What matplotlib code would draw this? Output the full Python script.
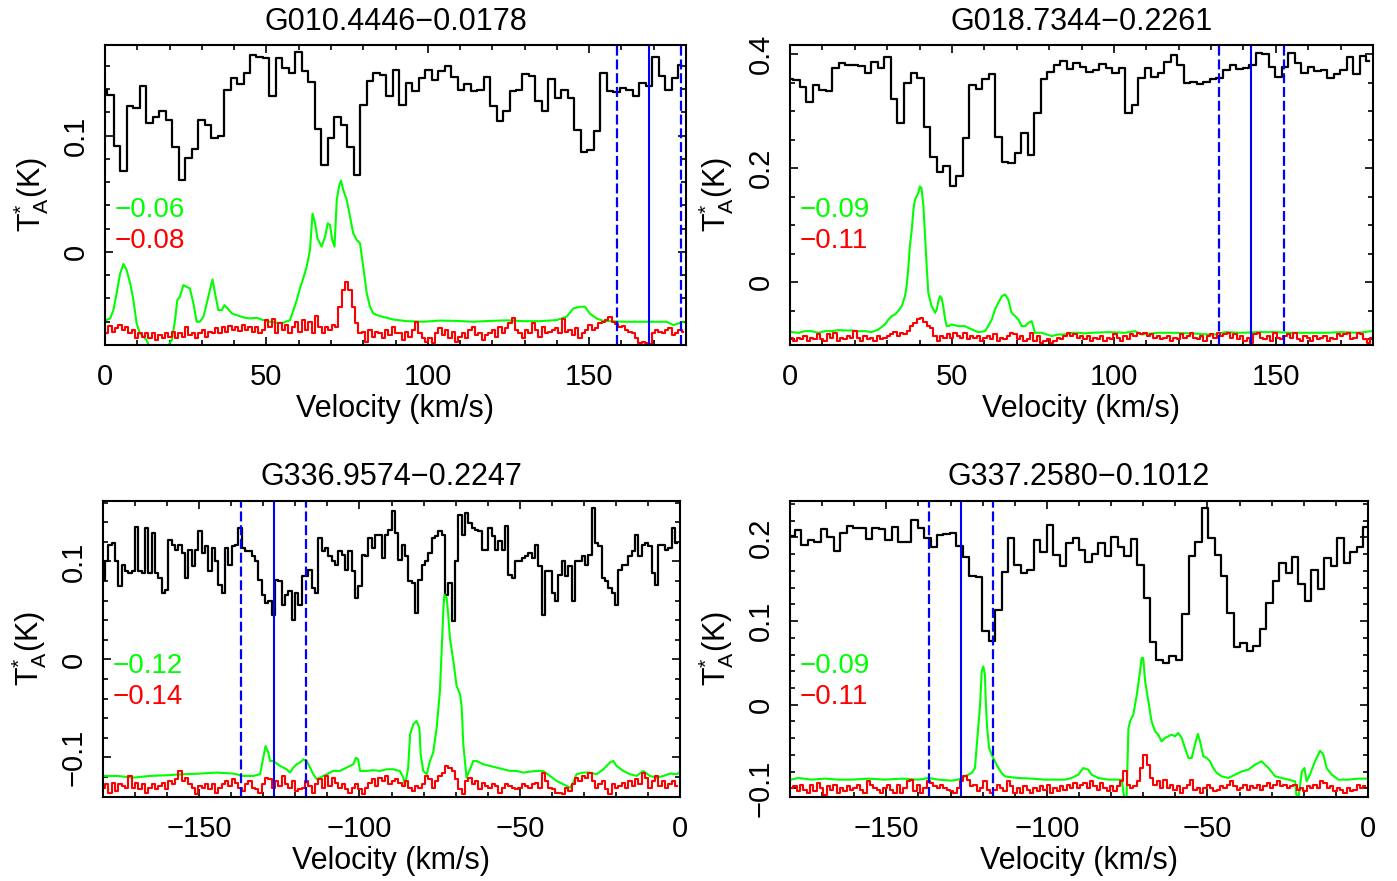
import numpy as np
import matplotlib
matplotlib.use("Agg")
import matplotlib.pyplot as plt
from matplotlib.ticker import MultipleLocator, FixedLocator, FixedFormatter

plt.rcParams['font.family'] = ['Liberation Sans', 'DejaVu Sans']
plt.rcParams['mathtext.fontset'] = 'custom'
plt.rcParams['mathtext.rm'] = 'Liberation Sans'
plt.rcParams['mathtext.it'] = 'Liberation Sans'

# ---------------- data ----------------
titles = ["G010.4446\u22120.0178", "G018.7344\u22120.2261",
          "G336.9574\u22120.2247", "G337.2580\u22120.1012"]
green_labels = ["\u22120.06", "\u22120.09", "\u22120.12", "\u22120.09"]
red_labels = ["\u22120.08", "\u22120.11", "\u22120.14", "\u22120.11"]
vlsr_center = [168.5, 142.4, -126.8, -126.8]
vlsr_halfwidth = [10.0, 10.0, 10.0, 10.0]

# Panel 1 : G010.4446-0.0178
p1_black_v0, p1_black_dv = -0.305, 2.01
p1_black = [0.1397, 0.1353, 0.0908, 0.0698, 0.1253, 0.1239, 0.1425, 0.1109, 0.1161, 0.1216,
            0.1132, 0.0899, 0.0621, 0.0807, 0.0885, 0.1132, 0.1095, 0.0980, 0.0994, 0.1397,
            0.1497, 0.1445, 0.1540, 0.1698, 0.1678, 0.1670, 0.1339, 0.1664, 0.1583, 0.1540,
            0.1721, 0.1555, 0.1463, 0.1057, 0.0750, 0.0980, 0.1158, 0.1095, 0.0899, 0.0664,
            0.1267, 0.1468, 0.1540, 0.1526, 0.1339, 0.1563, 0.1267, 0.1454, 0.1382, 0.1497,
            0.1563, 0.1483, 0.1555, 0.1598, 0.1506, 0.1397, 0.1445, 0.1382, 0.1397, 0.1506,
            0.1253, 0.1129, 0.1216, 0.1382, 0.1397, 0.1532, 0.1517, 0.1296, 0.1210, 0.1489,
            0.1325, 0.1397, 0.1325, 0.1052, 0.0859, 0.0874, 0.1043, 0.1540, 0.1382, 0.1376,
            0.1411, 0.1397, 0.1345, 0.1454, 0.1425, 0.1678, 0.1511, 0.1397, 0.1497, 0.1612]
p1_green_v = [0.3, 1.6, 2.6, 3.6, 4.7, 5.7, 6.7, 7.8, 8.8, 9.8, 10.8, 11.9, 12.9, 13.9, 16.5, 19.1,
              20.7, 21.7, 22.4, 23.2, 24.3, 25.3, 26.3, 27.4, 28.4, 29.4, 30.5, 31.5, 32.5, 33.3,
              34.1, 35.1, 36.2, 37.0, 38.0, 39.3, 40.8, 42.9, 44.9, 47.0, 49.0, 51.1, 53.2, 55.2,
              57.3, 58.4, 59.4, 60.4, 61.4, 62.5, 63.5, 64.3, 65.1, 65.8, 67.1, 68.2, 69.0, 69.7,
              70.4, 71.1, 71.8, 72.5, 73.1, 73.8, 74.9, 75.9, 76.9, 78.0, 79.0, 80.0, 81.1, 82.1,
              83.1, 85.2, 87.3, 89.3, 93.5, 98.6, 103.7, 108.9, 114.0, 119.3, 124.5, 129.6, 134.8,
              139.9, 143.0, 145.1, 147.1, 148.7, 150.2, 152.3, 154.4, 160.6, 168.8, 174.0, 176.1,
              179.2]
p1_green = [-0.0586, -0.0572, -0.0500, -0.0356, -0.0184, -0.0103, -0.0155, -0.0270, -0.0414,
            -0.0615, -0.0700, -0.0730, -0.0759, -0.0820, -0.0820, -0.0820, -0.0759, -0.0586,
            -0.0414, -0.0385, -0.0285, -0.0300, -0.0313, -0.0443, -0.0600, -0.0600, -0.0557,
            -0.0443, -0.0328, -0.0236, -0.0356, -0.0500, -0.0500, -0.0457, -0.0486, -0.0529,
            -0.0543, -0.0563, -0.0572, -0.0566, -0.0586, -0.0600, -0.0609, -0.0609, -0.0586,
            -0.0500, -0.0414, -0.0313, -0.0227, -0.0126, 0.0017, 0.0330, 0.0246, 0.0118, 0.0046,
            0.0132, 0.0246, 0.0232, 0.0103, 0.0046, 0.0448, 0.0563, 0.0615, 0.0534, 0.0448,
            0.0305, 0.0161, 0.0103, 0.0075, -0.0126, -0.0356, -0.0471, -0.0529, -0.0552, -0.0566,
            -0.0581, -0.0595, -0.0600, -0.0590, -0.0593, -0.0600, -0.0593, -0.0588, -0.0595,
            -0.0595, -0.0586, -0.0557, -0.0486, -0.0471, -0.0471, -0.0529, -0.0572, -0.0593,
            -0.0600, -0.0600, -0.0600, -0.0629, -0.0600]
p1_red_v0, p1_red_dv = 0.5, 1.033
p1_red = [-0.0701, -0.0638, -0.0687, -0.0658, -0.0629, -0.0672, -0.0649, -0.0701, -0.0672, -0.0744,
          -0.0695, -0.0730, -0.0701, -0.0744, -0.0701, -0.0759, -0.0715, -0.0744, -0.0701, -0.0730,
          -0.0687, -0.0744, -0.0701, -0.0730, -0.0644, -0.0715, -0.0695, -0.0744, -0.0701, -0.0672,
          -0.0730, -0.0687, -0.0701, -0.0658, -0.0695, -0.0649, -0.0687, -0.0638, -0.0672, -0.0644,
          -0.0678, -0.0629, -0.0667, -0.0644, -0.0687, -0.0649, -0.0701, -0.0672, -0.0586, -0.0644,
          -0.0580, -0.0701, -0.0615, -0.0672, -0.0629, -0.0701, -0.0644, -0.0600, -0.0687, -0.0586,
          -0.0672, -0.0600, -0.0701, -0.0552, -0.0644, -0.0695, -0.0644, -0.0672, -0.0629, -0.0644,
          -0.0471, -0.0327, -0.0256, -0.0327, -0.0471, -0.0615, -0.0701, -0.0687, -0.0773, -0.0672,
          -0.0730, -0.0687, -0.0701, -0.0744, -0.0672, -0.0715, -0.0644, -0.0701,
          -0.0701, -0.0759, -0.0687, -0.0730, -0.0672, -0.0600, -0.0701, -0.0744, -0.0773, -0.0744,
          -0.0787, -0.0701, -0.0658, -0.0715, -0.0672, -0.0744, -0.0687, -0.0773, -0.0730, -0.0701,
          -0.0744, -0.0672, -0.0644, -0.0715, -0.0701, -0.0759, -0.0715, -0.0701, -0.0672, -0.0730,
          -0.0644, -0.0701, -0.0658, -0.0615, -0.0572, -0.0672, -0.0701, -0.0744, -0.0672, -0.0701,
          -0.0615, -0.0672, -0.0730, -0.0644, -0.0701, -0.0687, -0.0672, -0.0658, -0.0701, -0.0580,
          -0.0687, -0.0672, -0.0715, -0.0658, -0.0744, -0.0701, -0.0672, -0.0629, -0.0672, -0.0658,
          -0.0615, -0.0600, -0.0586, -0.0563, -0.0600, -0.0621, -0.0644, -0.0638, -0.0672, -0.0687,
          -0.0701, -0.0744, -0.0787, -0.0773, -0.0787, -0.0793, -0.0701, -0.0667, -0.0687, -0.0701,
          -0.0672, -0.0658, -0.0715, -0.0701, -0.0672, -0.0687]

# Panel 2 : G018.7344-0.2261
p2_black_v0, p2_black_dv = 0.025, 2.01
p2_black = [0.3560, 0.3547, 0.3430, 0.3167, 0.3459, 0.3372, 0.3360, 0.3752, 0.3839, 0.3810,
            0.3810, 0.3792, 0.3675, 0.3868, 0.3752, 0.3944, 0.3209, 0.2789, 0.3489, 0.3664,
            0.3577, 0.2719, 0.2205, 0.1942, 0.2042, 0.1680, 0.1855, 0.2527, 0.3459, 0.3384,
            0.3560, 0.3647, 0.2555, 0.2100, 0.2089, 0.2264, 0.2614, 0.2234, 0.2975, 0.3560,
            0.3692, 0.3810, 0.3885, 0.3734, 0.3839, 0.3780,
            0.3692, 0.3722, 0.3827, 0.3752, 0.3664, 0.3752, 0.2964, 0.3110, 0.3577, 0.3752,
            0.3605, 0.3664, 0.3868, 0.3984, 0.3810, 0.3489, 0.3517, 0.3477, 0.3517, 0.3560,
            0.3577, 0.3722, 0.3810, 0.3734, 0.3752, 0.3810, 0.4025, 0.4001, 0.3769, 0.3605,
            0.3780, 0.4025, 0.3850, 0.3664, 0.3780, 0.3710, 0.3722, 0.3577, 0.3647, 0.3722,
            0.3955, 0.3652, 0.3967, 0.3885]
p2_green_v = [0.5, 2.6, 4.6, 6.7, 8.8, 10.8, 12.9, 14.9, 17.0, 19.0, 21.1, 23.2, 25.2, 27.3, 29.3,
              30.4, 31.4, 32.4, 33.4, 34.5, 35.5, 36.0, 36.5, 37.0, 37.6, 38.1, 38.6, 39.1, 39.6,
              40.1, 40.6, 41.2, 41.7, 42.2, 42.7, 43.7, 44.8, 45.3, 45.8, 46.3, 46.8, 47.3, 47.9,
              48.4, 48.9, 49.9, 52.0, 54.0, 56.1, 58.1, 60.2, 61.2, 62.3, 63.3, 64.3, 65.4, 66.4,
              67.4, 68.4, 69.5, 70.5, 71.5, 72.6, 73.6, 74.6, 75.1, 75.6, 77.7, 80.8, 82.8, 84.9,
              87.0, 89.0, 90.9, 93.1, 98.3, 103.4, 106.5, 108.6, 113.7, 118.9, 124.0, 129.2,
              131.2, 134.3, 139.4, 144.6, 149.7, 154.9, 160.0, 165.2, 170.3, 175.5, 179.6]
p2_green = [-0.0874, -0.0886, -0.0857, -0.0857, -0.0886, -0.0857, -0.0857, -0.0839, -0.0845,
            -0.0845, -0.0857, -0.0857, -0.0874, -0.0827, -0.0740, -0.0652, -0.0594, -0.0565,
            -0.0507, -0.0419, -0.0244, -0.0069, 0.0222, 0.0631, 0.0922, 0.1272, 0.1447, 0.1506,
            0.1564, 0.1681, 0.1651, 0.1331, 0.0806, 0.0281, -0.0186, -0.0419, -0.0536, -0.0477,
            -0.0332, -0.0244, -0.0273, -0.0419, -0.0652, -0.0769, -0.0769, -0.0740, -0.0769,
            -0.0769, -0.0827, -0.0874, -0.0857, -0.0769, -0.0652, -0.0477, -0.0361, -0.0244,
            -0.0215, -0.0303, -0.0536, -0.0594, -0.0652, -0.0769, -0.0769, -0.0711, -0.0682,
            -0.0769, -0.0886, -0.0886, -0.0944, -0.0915, -0.0915, -0.0886, -0.0886, -0.0897,
            -0.0886, -0.0874, -0.0886, -0.0857, -0.0915, -0.0886, -0.0886, -0.0897, -0.0915,
            -0.0915, -0.0874, -0.0886, -0.0874, -0.0874, -0.0886, -0.0886, -0.0886, -0.0874,
            -0.0886, -0.0857]
p2_red_v0, p2_red_dv = 0.51, 1.029
p2_red = [-0.0973, -0.1032, -0.0973, -0.1002, -0.0944, -0.1032, -0.0973, -0.1002, -0.0915, -0.1002,
          -0.1032, -0.0915, -0.0973, -0.0886, -0.1032, -0.0973, -0.1002, -0.0944, -0.0973, -0.0857,
          -0.0973, -0.1032, -0.0944, -0.1002, -0.0973, -0.1032, -0.0944, -0.1002, -0.0973, -0.0944,
          -0.0915, -0.0874, -0.0944, -0.0886, -0.0915, -0.0857, -0.0769, -0.0711, -0.0652, -0.0623,
          -0.0699, -0.0769, -0.0798, -0.0944, -0.1032, -0.0944, -0.0973, -0.0915, -0.0973, -0.0886,
          -0.0944, -0.0973, -0.0886, -0.1002, -0.0944, -0.0973, -0.0944, -0.1032, -0.0973, -0.0944,
          -0.1002, -0.0915, -0.1032, -0.0973, -0.1002, -0.0944, -0.0886, -0.0915, -0.1002, -0.0944,
          -0.1032, -0.1002, -0.0886, -0.1032, -0.0944, -0.1061, -0.1032, -0.1002, -0.1061, -0.1032,
          -0.0973, -0.1002, -0.0944, -0.0886, -0.0944, -0.0915, -0.0973, -0.0944,
          -0.1002, -0.0944, -0.1032, -0.0973, -0.1002, -0.0944, -0.1032, -0.0973, -0.1002, -0.0915,
          -0.0973, -0.1032, -0.0944, -0.1002, -0.0915, -0.0944, -0.0886, -0.0915, -0.0886, -0.0944,
          -0.0915, -0.0973, -0.0944, -0.1002, -0.0973, -0.0944, -0.1032, -0.0973, -0.1002, -0.0915,
          -0.0973, -0.0944, -0.0886, -0.0973, -0.1002, -0.0944, -0.1032, -0.0944, -0.0915, -0.0973,
          -0.0886, -0.0944, -0.0915, -0.0886, -0.0973, -0.0915, -0.1002, -0.0944, -0.1032, -0.0973,
          -0.1061, -0.0915, -0.0886, -0.0973, -0.1002, -0.0944, -0.1032, -0.0886, -0.0973, -0.1002,
          -0.0944, -0.0915, -0.0973, -0.0886, -0.1002, -0.1032, -0.0944, -0.0973, -0.1032, -0.0944,
          -0.1002, -0.0973, -0.0944, -0.1032, -0.0973, -0.1002, -0.0915, -0.0944, -0.0915, -0.0886,
          -0.1002, -0.0973, -0.0886, -0.0915, -0.1002, -0.1061, -0.0973]

# Panel 3 : G336.9574-0.2247
p3_black_v0, p3_black_dv = -179.9, 1.04
p3_black = [0.0815, 0.1001, 0.1171, 0.1188, 0.1001, 0.0747, 0.0967, 0.0900, 0.0883, 0.0900,
            0.1351, 0.0900, 0.0883, 0.1341, 0.0883, 0.1290, 0.0883, 0.0832, 0.0679, 0.0713,
            0.1222, 0.1171, 0.1120, 0.1171, 0.1086, 0.0832, 0.1120, 0.0950, 0.1120, 0.1307,
            0.1086, 0.1154, 0.0900, 0.1137, 0.1001, 0.0764, 0.0679, 0.1137, 0.0967, 0.1154,
            0.1171, 0.1341, 0.1137, 0.1103, 0.1103, 0.1052, 0.1001, 0.0815, 0.0662, 0.0577,
            0.0594, 0.0458, 0.0815, 0.0805, 0.0560, 0.0662, 0.0696, 0.0407, 0.0679, 0.0560,
            0.0849, 0.0849, 0.0917, 0.0730, 0.0679, 0.1239, 0.1103, 0.1137, 0.1052, 0.1001,
            0.0967, 0.1103, 0.1069, 0.0917, 0.1103, 0.0900, 0.0628, 0.0747, 0.1069, 0.1052,
            0.1239, 0.1137, 0.1273, 0.1273, 0.1035, 0.1273, 0.1324, 0.1510, 0.1290, 0.1018,
            0.1171, 0.1052, 0.0798, 0.0781, 0.0475, 0.0815, 0.0967, 0.1001, 0.1086, 0.1239,
            0.1256, 0.1314, 0.1273, 0.0662, 0.0781, 0.0390, 0.1001, 0.1477, 0.1273, 0.1493,
            0.1392, 0.1341, 0.1324, 0.1307, 0.1120, 0.1120, 0.1341, 0.1256, 0.1120, 0.1205,
            0.1120, 0.1358, 0.0866, 0.0832, 0.1001, 0.1001, 0.1035, 0.1052, 0.1086, 0.1035,
            0.1171, 0.0950, 0.0458, 0.0900, 0.0900, 0.0679, 0.0594, 0.0866, 0.1001, 0.0849,
            0.0950, 0.0594, 0.1001, 0.1001, 0.1052, 0.0967, 0.1069, 0.1544, 0.1188, 0.1154,
            0.0832, 0.0798, 0.0730, 0.0679, 0.0560, 0.0917, 0.0967, 0.0967, 0.1052, 0.1103,
            0.1273, 0.1052, 0.1171, 0.1188, 0.1154, 0.0883, 0.0764, 0.1171, 0.1171, 0.1120,
            0.1137, 0.1341, 0.1188]
p3_green_v = [-179.9, -175.7, -170.5, -165.3, -160.1, -154.9, -149.7, -144.5, -139.4, -136.2,
              -133.1, -131.0, -130.0, -129.3, -128.4, -127.9, -126.9, -124.8, -122.7, -121.7,
              -120.6, -119.6, -118.6, -117.5, -116.5, -115.4, -114.4, -113.3, -112.3, -110.2,
              -108.2, -106.1, -104.0, -101.9, -101.1, -100.4, -99.8, -97.8, -95.7, -93.6, -91.5,
              -89.5, -87.4, -86.3, -85.8, -84.8, -84.2, -83.2, -82.2, -81.3, -80.9, -80.1, -79.0,
              -78.0, -77.0, -75.9, -74.9, -74.4, -73.8, -73.5, -72.8, -72.3, -71.8, -70.7, -69.7,
              -68.6, -68.1, -67.6, -67.1, -66.6, -65.5, -64.5, -63.5, -61.4, -59.3, -57.2, -55.1,
              -53.0, -51.0, -48.9, -46.8, -44.7, -42.7, -40.6, -38.5, -36.4, -34.3, -33.3, -32.3,
              -30.2, -28.1, -26.0, -23.9, -21.9, -20.8, -19.8, -17.7, -15.6, -13.5, -11.5, -9.4,
              -7.3, -5.2, -3.1, -1.1, -0.2]
p3_green = [-0.1188, -0.1188, -0.1205, -0.1188, -0.1181, -0.1171, -0.1164, -0.1154, -0.1164,
            -0.1188, -0.1188, -0.1171, -0.1002, -0.0883, -0.0951, -0.1035, -0.1035, -0.1086,
            -0.1120, -0.1154, -0.1103, -0.1069, -0.1052, -0.1019, -0.1035, -0.1103, -0.1171,
            -0.1222, -0.1205, -0.1171, -0.1137, -0.1137, -0.1103, -0.1069, -0.1002, -0.1019,
            -0.1137, -0.1137, -0.1130, -0.1137, -0.1120, -0.1120, -0.1137, -0.1205, -0.1290,
            -0.1103, -0.0764, -0.0662, -0.0628, -0.0696, -0.0968, -0.1137, -0.1171, -0.1035,
            -0.0951, -0.0696, -0.0322, 0.0051, 0.0526, 0.0662, 0.0628, 0.0458, 0.0221, -0.0017,
            -0.0271, -0.0356, -0.0492, -0.0866, -0.1035, -0.1205, -0.1120, -0.1035, -0.1035,
            -0.1069, -0.1086, -0.1103, -0.1120, -0.1137, -0.1137, -0.1154, -0.1144, -0.1137,
            -0.1137, -0.1188, -0.1239, -0.1273, -0.1307, -0.1256, -0.1171, -0.1154, -0.1154,
            -0.1171, -0.1120, -0.1052, -0.1035, -0.1086, -0.1137, -0.1171, -0.1188, -0.1137,
            -0.1188, -0.1205, -0.1188, -0.1164, -0.1171, -0.1154]
p3_red_v0, p3_red_dv = -179.9, 1.04
p3_red = [-0.1307, -0.1273, -0.1358, -0.1256, -0.1341, -0.1273, -0.1290, -0.1307, -0.1188, -0.1307,
          -0.1256, -0.1324, -0.1273, -0.1358, -0.1307, -0.1273, -0.1324, -0.1290, -0.1256, -0.1324,
          -0.1239, -0.1273, -0.1222, -0.1137, -0.1239, -0.1205, -0.1273, -0.1307, -0.1375, -0.1290,
          -0.1307, -0.1273, -0.1324, -0.1273, -0.1358, -0.1307, -0.1273, -0.1239, -0.1290, -0.1222,
          -0.1256, -0.1307, -0.1341, -0.1273, -0.1239, -0.1307, -0.1324, -0.1358, -0.1273, -0.1205,
          -0.1222, -0.1307, -0.1239, -0.1290, -0.1188, -0.1273, -0.1307, -0.1239, -0.1341, -0.1324,
          -0.1307, -0.1239, -0.1290, -0.1358, -0.1273, -0.1222, -0.1307, -0.1188, -0.1290, -0.1205,
          -0.1256, -0.1307, -0.1273, -0.1324, -0.1358, -0.1307, -0.1273, -0.1324, -0.1375, -0.1307,
          -0.1256, -0.1222, -0.1290, -0.1205, -0.1239, -0.1188, -0.1273, -0.1239, -0.1222, -0.1256,
          -0.1290, -0.1239, -0.1307, -0.1341, -0.1290, -0.1307, -0.1273, -0.1188, -0.1222, -0.1307,
          -0.1239, -0.1188, -0.1154, -0.1086, -0.1103, -0.1137, -0.1222, -0.1324, -0.1375, -0.1239,
          -0.1205, -0.1273, -0.1239, -0.1324, -0.1256, -0.1290, -0.1307, -0.1273, -0.1290, -0.1358,
          -0.1307, -0.1273, -0.1290, -0.1307, -0.1324, -0.1307, -0.1273, -0.1290, -0.1307, -0.1273,
          -0.1256, -0.1307, -0.1154, -0.1239, -0.1307, -0.1324, -0.1358, -0.1358, -0.1375, -0.1307,
          -0.1341, -0.1273, -0.1205, -0.1239, -0.1188, -0.1205, -0.1154, -0.1239, -0.1307, -0.1273,
          -0.1239, -0.1324, -0.1375, -0.1273, -0.1307, -0.1290, -0.1256, -0.1307, -0.1239, -0.1290,
          -0.1222, -0.1273, -0.1154, -0.1205, -0.1307, -0.1239, -0.1188, -0.1290, -0.1239, -0.1307,
          -0.1273, -0.1239, -0.1290]

# Panel 4 : G337.2580-0.1012
p4_black_v0, p4_black_dv = -179.445, 2.01
p4_black = [0.2023, 0.2091, 0.1912, 0.1971, 0.1944, 0.2099, 0.2011, 0.1840, 0.2051, 0.2143,
            0.2119, 0.2111, 0.1979, 0.2111, 0.2099, 0.1971, 0.2123, 0.1951, 0.1951, 0.2210,
            0.2111, 0.1991, 0.1892, 0.2031, 0.2039, 0.2051, 0.1904, 0.1772, 0.1541, 0.1533,
            0.0884, 0.0757, 0.1135, 0.1593, 0.1991, 0.1673, 0.1573, 0.1613, 0.1971, 0.1832,
            0.2151, 0.1792, 0.1665, 0.1932, 0.1991, 0.1852,
            0.1712, 0.1800, 0.1940, 0.1780, 0.2011, 0.1892, 0.1780, 0.1979, 0.1673, 0.1282,
            0.0749, 0.0530, 0.0498, 0.0585, 0.0538, 0.1083, 0.1780, 0.1951, 0.2350, 0.1991,
            0.1792, 0.1545, 0.1095, 0.0689, 0.0737, 0.0645, 0.0697, 0.0908, 0.1222, 0.1482,
            0.1693, 0.1573, 0.1772, 0.1442, 0.1235, 0.1613, 0.1382, 0.1752, 0.1661, 0.1991,
            0.1693, 0.1832, 0.1892, 0.2131, 0.1999]
p4_green_v = [-179.7, -177.4, -173.3, -169.1, -164.9, -160.8, -155.6, -150.4, -145.2, -140.0,
              -136.9, -133.8, -129.7, -127.6, -125.5, -123.4, -122.4, -121.9, -121.4, -120.8,
              -120.3, -119.8, -119.3, -119.0, -118.6, -118.0, -117.2, -116.2, -115.1, -114.1,
              -113.1, -111.0, -108.9, -104.7, -100.6, -96.4, -94.4, -92.3, -90.2, -88.7, -87.1,
              -86.1, -84.0, -80.9, -78.8, -76.7, -75.9, -75.2, -74.6, -74.1, -73.1, -72.0, -71.0,
              -70.5, -70.0, -69.4, -68.4, -67.4, -66.3, -65.3, -64.3, -63.2, -62.2, -61.1, -60.1,
              -59.1, -58.0, -57.0, -55.9, -54.9, -53.9, -53.0, -52.3, -51.3, -50.2, -49.2, -48.2,
              -47.1, -45.6, -43.5, -41.4, -39.3, -37.3, -35.2, -33.1, -32.1, -31.0, -28.9, -26.9,
              -24.8, -22.7, -22.2, -21.7, -20.6, -19.8, -19.1, -18.1, -16.5, -14.9, -13.9, -12.9,
              -11.3, -9.2, -6.1, -3.0, -0.1]
p4_green = [-0.0896, -0.0876, -0.0896, -0.0884, -0.0896, -0.0896, -0.0884, -0.0896, -0.0884,
            -0.0896, -0.0876, -0.0896, -0.0908, -0.0896, -0.0856, -0.0816, -0.0757, -0.0518,
            -0.0279, 0.0000, 0.0398, 0.0458, 0.0358, 0.0000, -0.0279, -0.0518, -0.0597, -0.0677,
            -0.0757, -0.0816, -0.0856, -0.0868, -0.0876, -0.0884, -0.0896, -0.0896, -0.0896,
            -0.0876, -0.0836, -0.0757, -0.0777, -0.0836, -0.0876, -0.0896, -0.0896, -0.0896,
            -0.1120, -0.1120, -0.0279, -0.0199, -0.0119, 0.0119, 0.0398, 0.0558, 0.0558, 0.0279,
            0.0040, -0.0199, -0.0319, -0.0358, -0.0438, -0.0398, -0.0378, -0.0358, -0.0378,
            -0.0338, -0.0398, -0.0518, -0.0637, -0.0637, -0.0478, -0.0350, -0.0438, -0.0617,
            -0.0637, -0.0677, -0.0757, -0.0816, -0.0856, -0.0876, -0.0836, -0.0797, -0.0777,
            -0.0717, -0.0677, -0.0717, -0.0757, -0.0856, -0.0876, -0.0896, -0.0916, -0.1120,
            -0.1120, -0.0797, -0.0757, -0.0916, -0.0836, -0.0677, -0.0550, -0.0597, -0.0757,
            -0.0836, -0.0896, -0.0896, -0.0884, -0.0884]
p4_red_v0, p4_red_dv = -179.48, 1.038
p4_red = [-0.0996, -0.0976, -0.1035, -0.0956, -0.1016, -0.1055, -0.0956, -0.1035, -0.0936, -0.0996,
          -0.1075, -0.0976, -0.1016, -0.0956, -0.1055, -0.0996, -0.1035, -0.0976, -0.1016, -0.0996,
          -0.0956, -0.1016, -0.1055, -0.0916, -0.0956, -0.0996, -0.1016, -0.1055, -0.0996, -0.0956,
          -0.1016, -0.1055, -0.0956, -0.1055, -0.0996, -0.0916, -0.0896, -0.1035, -0.0956, -0.1055,
          -0.0996, -0.0916, -0.0936, -0.0976, -0.0996, -0.0956, -0.0996, -0.1016, -0.1035, -0.1055,
          -0.0996, -0.0916, -0.0856, -0.0896, -0.0976, -0.0956, -0.1035, -0.0996, -0.0916, -0.1016,
          -0.1055, -0.1016, -0.0956, -0.0996, -0.1035, -0.0916, -0.0976, -0.1055, -0.0996, -0.1055,
          -0.0976, -0.1016, -0.1055, -0.0996, -0.1035, -0.0976, -0.1016, -0.0956, -0.1055, -0.0996,
          -0.1035, -0.0976, -0.1016, -0.0956, -0.0996, -0.0936, -0.0996, -0.0956,
          -0.0936, -0.0996, -0.0916, -0.0976, -0.1016, -0.0936, -0.0996, -0.1035, -0.0976, -0.1035,
          -0.0976, -0.0916, -0.0797, -0.0956, -0.0996, -0.0976, -0.0916, -0.0757, -0.0597, -0.0717,
          -0.0876, -0.0956, -0.0916, -0.0996, -0.0896, -0.0996, -0.0956, -0.1016, -0.0976, -0.1055,
          -0.0996, -0.0956, -0.0896, -0.1016, -0.0996, -0.1055, -0.0996, -0.0956, -0.0996, -0.1035,
          -0.1016, -0.0976, -0.0996, -0.0956, -0.0916, -0.0976, -0.1016, -0.0996, -0.0956, -0.1016,
          -0.0976, -0.0996, -0.0956, -0.1016, -0.0976, -0.0936, -0.0996, -0.0956, -0.0916, -0.0976,
          -0.0956, -0.0996, -0.0976, -0.0956, -0.1016, -0.0996, -0.1035, -0.0976, -0.0996, -0.0956,
          -0.0996, -0.0916, -0.0936, -0.0996, -0.0976, -0.1035, -0.0996, -0.1016, -0.1055, -0.0996,
          -0.1035, -0.1016, -0.0956, -0.0996, -0.0976]

# axis settings per panel
xlims = [(0, 180), (0, 180), (-180, 0), (-180, 0)]
ylims = [(-0.08, 0.178), (-0.11, 0.416), (-0.14, 0.162), (-0.11, 0.244)]
xmajor = [[0, 50, 100, 150], [0, 50, 100, 150], [-150, -100, -50, 0], [-150, -100, -50, 0]]
xmajor_lbl = [["0", "50", "100", "150"], ["0", "50", "100", "150"],
              ["\u2212150", "\u2212100", "\u221250", "0"], ["\u2212150", "\u2212100", "\u221250", "0"]]
ymajor = [[0, 0.1], [0, 0.2, 0.4], [-0.1, 0, 0.1], [-0.1, 0, 0.1, 0.2]]
ymajor_lbl = [["0", "0.1"], ["0", "0.2", "0.4"], ["\u22120.1", "0", "0.1"],
              ["\u22120.1", "0", "0.1", "0.2"]]
yminor_step = [0.02, 0.05, 0.02, 0.02]

panels = [
    (p1_black_v0, p1_black_dv, p1_black, p1_green_v, p1_green, p1_red_v0, p1_red_dv, p1_red),
    (p2_black_v0, p2_black_dv, p2_black, p2_green_v, p2_green, p2_red_v0, p2_red_dv, p2_red),
    (p3_black_v0, p3_black_dv, p3_black, p3_green_v, p3_green, p3_red_v0, p3_red_dv, p3_red),
    (p4_black_v0, p4_black_dv, p4_black, p4_green_v, p4_green, p4_red_v0, p4_red_dv, p4_red),
]

# ---------------- figure ----------------
W, H = 1397, 881
fig = plt.figure(figsize=(W / 100, H / 100), dpi=100)
boxes = [(105, 45, 686, 345), (790, 45, 1373, 345), (103, 500.7, 680, 796.7), (790, 500.7, 1368, 796.7)]

FS = 21
for i, (bx0, by0, bx1, by1) in enumerate(boxes):
    ax = fig.add_axes([bx0 / W, 1 - by1 / H, (bx1 - bx0) / W, (by1 - by0) / H])
    bv0, bdv, bT, gv, gT, rv0, rdv, rT = panels[i]
    bv = bv0 + bdv * np.arange(len(bT))
    rv = rv0 + rdv * np.arange(len(rT))
    ax.step(bv, bT, where='mid', color='black', lw=1.6)
    ax.plot(gv, gT, color='#00ff00', lw=1.5)
    ax.step(rv, rT, where='mid', color='#ff0000', lw=1.5)
    c, hw = vlsr_center[i], vlsr_halfwidth[i]
    ax.axvline(c, color='#0000ff', lw=1.5)
    ax.axvline(c - hw, color='#0000ff', lw=1.6, linestyle=(0, (4.5, 1.7)))
    ax.axvline(c + hw, color='#0000ff', lw=1.6, linestyle=(0, (4.5, 1.7)))
    ax.set_xlim(*xlims[i])
    ax.set_ylim(*ylims[i])

    ax.xaxis.set_major_locator(FixedLocator(xmajor[i]))
    ax.xaxis.set_major_formatter(FixedFormatter(xmajor_lbl[i]))
    ax.xaxis.set_minor_locator(MultipleLocator(10))
    ax.yaxis.set_major_locator(FixedLocator(ymajor[i]))
    ax.yaxis.set_major_formatter(FixedFormatter(ymajor_lbl[i]))
    ax.yaxis.set_minor_locator(MultipleLocator(yminor_step[i]))
    ax.tick_params(which='both', direction='in', top=True, right=True, width=1.2, colors='black')
    ax.tick_params(which='major', length=6)
    ax.tick_params(which='minor', length=3.6)
    ax.tick_params(axis='x', which='major', labelsize=FS, pad=13)
    ax.tick_params(axis='y', which='major', labelsize=FS, pad=11)
    for lab in ax.get_yticklabels():
        lab.set_rotation(90)
        lab.set_va('center')
    for s in ax.spines.values():
        s.set_linewidth(1.5)

    hgt = by1 - by0
    wid = bx1 - bx0
    ax.set_xlabel("Velocity (km/s)", fontsize=22)
    ax.xaxis.set_label_coords(0.5, -49.0 / hgt)
    ax.set_ylabel(r"T$_\mathrm{A}^{*}$(K)", fontsize=22)
    ax.yaxis.set_label_coords(-54.0 / wid, 0.5)
    ax.text(0.5, 1 + 15.5 / hgt, titles[i], transform=ax.transAxes, ha='center',
            va='baseline', fontsize=22)
    ax.text(10.0 / wid, 1 - 165.0 / hgt, green_labels[i], transform=ax.transAxes, ha='left',
            va='center', fontsize=20, color='#00ff00')
    ax.text(10.0 / wid, 1 - 196.5 / hgt, red_labels[i], transform=ax.transAxes, ha='left',
            va='center', fontsize=20, color='#ff0000')

fig.savefig("out.png", dpi=100)
